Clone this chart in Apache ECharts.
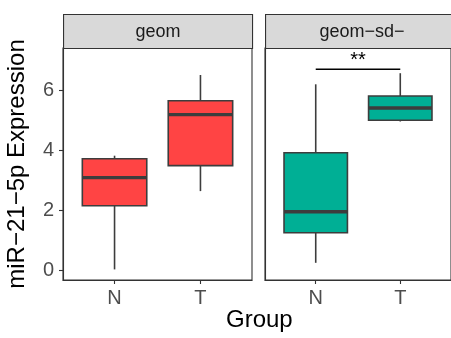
<!DOCTYPE html>
<html>
<head>
<meta charset="utf-8">
<script src="https://cdn.jsdelivr.net/npm/echarts@6/dist/echarts.min.js"></script>
<style>html,body{margin:0;padding:0;background:#fff}#c{width:451px;height:338px}</style>
</head>
<body>
<div id="c"></div>
<script>
// ---- data ----
const panels = ['geom', 'geom\u2212sd\u2212'];
const categories = ['N', 'T'];
const catPos = [1, 2];
// [lowerWhisker, Q1, median, Q3, upperWhisker]
const geomN = [0.02, 2.14, 3.08, 3.71, 3.81];
const geomT = [2.63, 3.48, 5.18, 5.64, 6.50];
const sdN = [0.24, 1.24, 1.94, 3.91, 6.19];
const sdT = [4.95, 4.99, 5.40, 5.80, 6.56];
const yTicks = [0, 2, 4, 6];
const bracketY = 6.69;
const bracketLabel = '**';
const yTitle = 'miR\u221221\u22125p Expression';
const xTitle = 'Group';

const FONT = 'Liberation Sans, Arial, sans-serif';
const BORDER = '#333333';
const BOXLINE = '#3D3D3D';

const chart = echarts.init(document.getElementById('c'), null, {renderer: 'canvas'});

function boxRender(color) {
  return function (params, api) {
    const x = api.value(0);
    const lo = api.value(1), q1 = api.value(2), md = api.value(3), q3 = api.value(4), hi = api.value(5);
    const hw = api.size([0.75, 0])[0] / 2;
    const c = (v) => api.coord([x, v]);
    const pLo = c(lo), pQ1 = c(q1), pMd = c(md), pQ3 = c(q3), pHi = c(hi);
    const lineStyle = {stroke: BOXLINE, lineWidth: 1.6};
    return {
      type: 'group',
      children: [
        {type: 'line', shape: {x1: pHi[0], y1: pHi[1], x2: pQ3[0], y2: pQ3[1]}, style: lineStyle},
        {type: 'line', shape: {x1: pLo[0], y1: pLo[1], x2: pQ1[0], y2: pQ1[1]}, style: lineStyle},
        {type: 'rect', shape: {x: pQ3[0] - hw, y: pQ3[1], width: 2 * hw, height: pQ1[1] - pQ3[1]},
          style: {fill: color, stroke: BOXLINE, lineWidth: 1.6}},
        {type: 'line', shape: {x1: pMd[0] - hw, y1: pMd[1], x2: pMd[0] + hw, y2: pMd[1]},
          style: {stroke: BOXLINE, lineWidth: 3.4}}
      ]
    };
  };
}

function toItems(stats) {
  return stats.map((s, i) => [catPos[i]].concat(s));
}

const grids = [
  {left: 63, top: 48, width: 189, height: 232},
  {left: 265, top: 48, width: 189, height: 232}
];

const option = {
  animation: false,
  backgroundColor: '#ffffff',
  textStyle: {fontFamily: FONT},
  grid: grids.map(g => Object.assign({show: true, borderColor: BORDER, borderWidth: 1.1, backgroundColor: '#fff'}, g)),
  xAxis: [0, 1].map(i => ({
    type: 'value', gridIndex: i, min: 0.4, max: 2.6,
    axisLine: {show: true, onZero: false, lineStyle: {color: BORDER, width: 1.1}},
    splitLine: {show: false},
    axisTick: {show: true, inside: false, customValues: catPos, length: 4, lineStyle: {color: BORDER, width: 1.1}},
    axisLabel: {show: true, customValues: catPos, formatter: v => categories[Math.round(v) - 1],
      color: '#4D4D4D', fontSize: 20, margin: 8, fontFamily: FONT}
  })),
  yAxis: [0, 1].map(i => ({
    type: 'value', gridIndex: i, min: -0.333, max: 7.4,
    axisLine: {show: true, onZero: false, lineStyle: {color: BORDER, width: 1.1}},
    splitLine: {show: false},
    axisTick: {show: i === 0, inside: false, customValues: yTicks, length: 4, lineStyle: {color: BORDER, width: 1.1}},
    axisLabel: {show: i === 0, customValues: yTicks, color: '#4D4D4D', fontSize: 20, margin: 9, fontFamily: FONT},
    name: i === 0 ? yTitle : '',
    nameLocation: 'middle',
    nameGap: 34,
    nameTextStyle: {color: '#000', fontSize: 24, fontFamily: FONT}
  })),
  series: [
    {type: 'custom', xAxisIndex: 0, yAxisIndex: 0, renderItem: boxRender('#FF4444'),
      data: toItems([geomN, geomT]), encode: {x: 0, y: [1, 2, 3, 4, 5]}},
    {type: 'custom', xAxisIndex: 1, yAxisIndex: 1, renderItem: boxRender('#00AF95'),
      data: toItems([sdN, sdT]), encode: {x: 0, y: [1, 2, 3, 4, 5]}},
    {type: 'custom', xAxisIndex: 1, yAxisIndex: 1,
      data: [[catPos[0], catPos[1], bracketY]],
      encode: {x: [0, 1], y: 2},
      renderItem: function (params, api) {
        const a = api.coord([api.value(0), api.value(2)]);
        const b = api.coord([api.value(1), api.value(2)]);
        return {type: 'group', children: [
          {type: 'line', shape: {x1: a[0], y1: a[1], x2: b[0], y2: b[1]}, style: {stroke: '#000', lineWidth: 1.6}},
          {type: 'text', x: (a[0] + b[0]) / 2, y: a[1] + 1,
            style: {text: bracketLabel, fill: '#000', font: '20px ' + FONT, align: 'center', verticalAlign: 'bottom'}}
        ]};
      }}
  ],
  graphic: [
    ...grids.map((g, i) => ({
      type: 'group', left: g.left, top: 14, silent: true,
      children: [
        {type: 'rect', shape: {x: 0, y: 0, width: g.width, height: 34},
          style: {fill: '#D9D9D9', stroke: BORDER, lineWidth: 1.1}},
        {type: 'text', x: i === 0 ? 94.5 : 96.5, y: 17,
          style: {text: panels[i], fill: '#1A1A1A', font: '18px ' + FONT, align: 'center', verticalAlign: 'middle'}}
      ]
    })),
    {type: 'text', left: 226, top: 308, silent: true,
      style: {text: xTitle, fill: '#000', font: '24px ' + FONT}}
  ]
};
chart.setOption(option);
</script>
</body>
</html>
